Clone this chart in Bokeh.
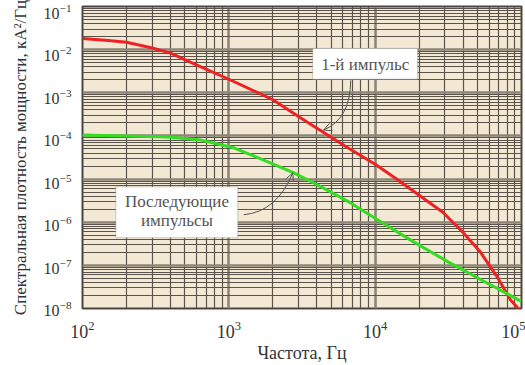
from bokeh.plotting import figure
from bokeh.models import (Range1d, LogTicker, LogAxis, LogScale, BoxAnnotation, Label, Arrow, OpenHead)
from bokeh.embed import file_html
from bokeh.resources import INLINE

# ---- data ----
freq_red = [100, 150, 200, 300, 400, 550, 1000, 2000, 3100, 6500, 10000, 14000, 29000, 40000, 52000, 68000,
            84000, 95000, 100000]
psd_red = [1.82e-2, 1.62e-2, 1.48e-2, 1.09e-2, 8.3e-3, 5.1e-3, 2.06e-3, 6.9e-4, 2.6e-4, 5.3e-5, 2.2e-5, 1.0e-5,
           1.7e-6, 5.7e-7, 2.1e-7, 5.5e-8, 1.6e-8, 1.0e-8, 8.0e-9]

freq_green = [100, 200, 384, 644, 1080, 1850, 2780, 4050, 6800, 10900, 18300, 31300, 52500, 100000]
psd_green = [1.05e-4, 1.0e-4, 9.4e-5, 8.0e-5, 5.3e-5, 2.5e-5, 1.39e-5, 7.3e-6, 2.8e-6, 1.03e-6, 3.5e-7,
             1.22e-7, 4.7e-8, 1.46e-8]

x_limits = [1e2, 1e5]
y_limits = [1e-8, 1e-1]

label_first = "1-й импульс"
label_next = ["Последующие", "импульсы"]
x_title = "Частота, Гц"
y_title = "Спектральная плотность мощности, кА²/Гц"

FONT = "Liberation Serif"
TXT = "#333333"

# In the reference the y tick labels sit a little below their grid lines.
# They are drawn by a label-only axis whose range is slightly stretched at the top.
LABEL_RANGE = (y_limits[0] * 0.9999, y_limits[1] * 1.311)

p = figure(width=525, height=365, x_axis_type="log", y_axis_type="log",
           x_range=Range1d(*x_limits), y_range=Range1d(*y_limits),
           y_axis_location=None,
           extra_y_ranges={"lab": Range1d(*LABEL_RANGE)},
           extra_y_scales={"lab": LogScale()},
           output_backend="svg", toolbar_location=None,
           min_border_left=82, min_border_right=4, min_border_top=6, min_border_bottom=56)

p.background_fill_color = "#f3e8d3"
p.border_fill_color = "white"
p.outline_line_color = "#4a4540"
p.outline_line_width = 2

xt = LogTicker(num_minor_ticks=10)
yt = LogTicker(num_minor_ticks=10)
p.xaxis.ticker = xt
p.xgrid.ticker = xt
p.ygrid.ticker = yt

yax = LogAxis(y_range_name="lab", ticker=LogTicker(num_minor_ticks=10),
              bounds=(y_limits[0] * 0.9999, y_limits[1]))
p.add_layout(yax, "left")

for g in (p.xgrid, p.ygrid):
    g.grid_line_color = "#8c8578"
    g.grid_line_width = 2.5
    g.minor_grid_line_color = "#5a544c"
    g.minor_grid_line_width = 1.2

for ax in (p.xaxis[0], yax):
    ax.axis_line_color = None
    ax.major_tick_line_color = None
    ax.minor_tick_line_color = None
    ax.major_label_text_font = FONT
    ax.major_label_text_color = TXT
    ax.axis_label_text_font = FONT
    ax.axis_label_text_font_style = "normal"
    ax.axis_label_text_color = TXT

p.xaxis.major_label_text_font_size = "18px"
p.xaxis.major_label_standoff = 6
p.xaxis.axis_label = x_title
p.xaxis.axis_label_text_font_size = "18px"
p.xaxis.axis_label_standoff = 2
yax.major_label_text_font_size = "16px"
yax.major_label_standoff = 5
yax.axis_label = y_title
yax.axis_label_text_font_size = "17px"
yax.axis_label_standoff = 11

p.line(freq_red, psd_red, line_color="#ee2222", line_width=3)
p.line(freq_green, psd_green, line_color="#33dd22", line_width=3)

# ---- annotations ----
BOXC = "#666666"
ANN = "#555555"
p.add_layout(BoxAnnotation(left=3741, right=19500, bottom=2.06e-3, top=1.07e-2,
                           fill_color="white", fill_alpha=1, line_color=BOXC, line_width=1))
p.add_layout(Label(x=8550, y=4.58e-3, text=label_first, text_align="center", text_baseline="middle",
                   text_font=FONT, text_font_size="17px", text_color=ANN))

p.add_layout(BoxAnnotation(left=169, right=1151, bottom=4.38e-7, top=6.6e-6,
                           fill_color="white", fill_alpha=1, line_color=BOXC, line_width=1))
p.add_layout(Label(x=442, y=2.97e-6, text=label_next[0], text_align="center", text_baseline="middle",
                   text_font=FONT, text_font_size="17px", text_color=ANN))
p.add_layout(Label(x=442, y=1.08e-6, text=label_next[1], text_align="center", text_baseline="middle",
                   text_font=FONT, text_font_size="17px", text_color=ANN))

# curved arrows
p.quadratic(x0=[6808], y0=[1.95e-3], x1=[4446], y1=[1.37e-4], cx=[6760], cy=[2.46e-4],
            line_color=ANN, line_width=1)
p.add_layout(Arrow(x_start=6760, y_start=2.46e-4, x_end=4446, y_end=1.37e-4, line_alpha=0,
                   end=OpenHead(size=8, line_color=ANN, line_width=1)))

p.quadratic(x0=[1265], y0=[1.49e-6], x1=[2735], y1=[1.39e-5], cx=[2128], cy=[1.75e-6],
            line_color=ANN, line_width=1)
p.add_layout(Arrow(x_start=2128, y_start=1.75e-6, x_end=2735, y_end=1.39e-5, line_alpha=0,
                   end=OpenHead(size=8, line_color=ANN, line_width=1)))

open("out.html", "w").write(file_html(p, INLINE))
